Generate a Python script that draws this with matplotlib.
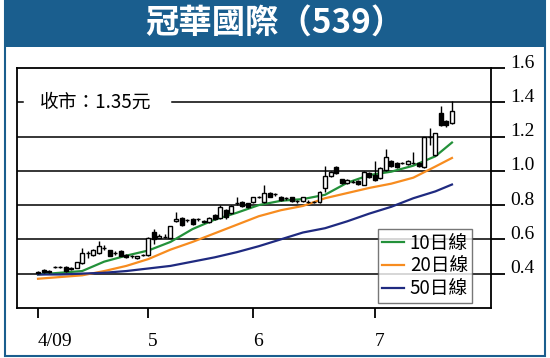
import numpy as np
import matplotlib
import matplotlib.pyplot as plt
import matplotlib.transforms as mtransforms
from matplotlib.patches import Rectangle

matplotlib.rcParams['font.family'] = ['Noto Sans CJK TC', 'DejaVu Sans']

# daily candles (open, high, low, close), from 4/09 onwards
opens = [0.405, 0.42, 0.415, 0.44, 0.44, 0.44, 0.435, 0.435, 0.46, 0.52,
         0.51, 0.52, 0.55, 0.535, 0.52, 0.53, 0.51, 0.50, 0.49, 0.51,
         0.51, 0.64, 0.61, 0.615, 0.61, 0.71, 0.725, 0.715, 0.72, 0.72,
         0.70, 0.70, 0.745, 0.725, 0.77, 0.755, 0.81, 0.82, 0.81, 0.82,
         0.845, 0.82, 0.87, 0.865, 0.85, 0.84, 0.845, 0.825, 0.825, 0.82,
         0.82, 0.82, 0.90, 0.97, 1.02, 0.95, 0.93, 0.935, 0.94, 0.92,
         0.99, 0.975, 0.96, 1.005, 1.06, 1.045, 1.045, 1.04, 1.045, 1.045,
         1.02, 1.20, 1.09, 1.335, 1.29, 1.28]
highs = [0.415, 0.425, 0.42, 0.445, 0.445, 0.445, 0.44, 0.47, 0.55, 0.53,
         0.545, 0.59, 0.565, 0.54, 0.53, 0.535, 0.515, 0.51, 0.505, 0.515,
         0.615, 0.66, 0.63, 0.63, 0.68, 0.76, 0.73, 0.72, 0.725, 0.725,
         0.715, 0.73, 0.75, 0.80, 0.775, 0.80, 0.85, 0.825, 0.815, 0.85,
         0.855, 0.92, 0.875, 0.87, 0.855, 0.845, 0.85, 0.83, 0.85, 0.83,
         0.825, 0.88, 1.03, 1.0, 1.03, 0.955, 0.95, 0.945, 0.945, 1.0,
         0.995, 1.06, 1.02, 1.13, 1.065, 1.05, 1.05, 1.065, 1.11, 1.05,
         1.20, 1.25, 1.22, 1.38, 1.295, 1.41]
lows = [0.40, 0.405, 0.405, 0.435, 0.435, 0.41, 0.42, 0.43, 0.455, 0.49,
        0.505, 0.515, 0.54, 0.50, 0.51, 0.50, 0.49, 0.49, 0.485, 0.50,
        0.505, 0.57, 0.605, 0.61, 0.605, 0.70, 0.68, 0.70, 0.685, 0.71,
        0.695, 0.695, 0.715, 0.72, 0.72, 0.75, 0.80, 0.79, 0.785, 0.815,
        0.84, 0.81, 0.845, 0.855, 0.825, 0.83, 0.82, 0.815, 0.82, 0.81,
        0.81, 0.815, 0.875, 0.965, 0.98, 0.925, 0.925, 0.93, 0.92, 0.915,
        0.96, 0.94, 0.955, 1.0, 1.025, 1.015, 1.04, 1.035, 1.04, 1.025,
        1.015, 1.15, 1.085, 1.26, 1.255, 1.275]
closes = [0.41, 0.41, 0.408, 0.44, 0.44, 0.415, 0.425, 0.465, 0.52, 0.52,
          0.54, 0.56, 0.55, 0.505, 0.52, 0.505, 0.495, 0.50, 0.50, 0.51,
          0.61, 0.60, 0.62, 0.615, 0.675, 0.72, 0.685, 0.715, 0.69, 0.72,
          0.71, 0.725, 0.72, 0.79, 0.73, 0.795, 0.81, 0.795, 0.79, 0.845,
          0.845, 0.87, 0.85, 0.865, 0.83, 0.84, 0.825, 0.825, 0.845, 0.82,
          0.82, 0.875, 0.97, 0.995, 0.985, 0.93, 0.945, 0.935, 0.925, 0.995,
          0.965, 0.945, 1.015, 1.08, 1.03, 1.02, 1.045, 1.06, 1.045, 1.03,
          1.20, 1.20, 1.22, 1.265, 1.265, 1.35]

# moving averages read at these candle indices
ma_idx = [0, 4, 8, 12, 16, 20, 24, 28, 32, 36, 40, 44, 48, 52, 56, 60, 64, 68, 72, 75]
ma10 = [0.395, 0.405, 0.415, 0.47, 0.505, 0.535, 0.585, 0.66, 0.715, 0.755,
        0.80, 0.825, 0.835, 0.86, 0.93, 0.975, 0.995, 1.03, 1.085, 1.165]
ma20 = [0.37, 0.38, 0.39, 0.415, 0.445, 0.485, 0.54, 0.585, 0.635, 0.685,
        0.735, 0.77, 0.795, 0.84, 0.87, 0.90, 0.925, 0.96, 1.025, 1.075]
ma50 = [0.395, 0.395, 0.40, 0.405, 0.415, 0.43, 0.445, 0.47, 0.495, 0.525,
        0.56, 0.60, 0.64, 0.665, 0.705, 0.75, 0.79, 0.84, 0.88, 0.92]

month_pos = [0, 19.9, 38.9, 61.0]
month_labels = ['4/09', '5', '6', '7']
yticks = [0.4, 0.6, 0.8, 1.0, 1.2, 1.4, 1.6]
last_close = 1.35

blue = '#1a5e8e'

fig = plt.figure(figsize=(5.5, 3.58), dpi=100)

# outer frame and title bar
fig.patches.append(Rectangle((0.009, 0.006), 0.982, 0.99, transform=fig.transFigure,
                             fill=False, edgecolor=blue, lw=1.5))
fig.patches.append(Rectangle((0.009, 0.869), 0.982, 0.131, transform=fig.transFigure,
                             facecolor=blue, edgecolor='none'))
fig.text(0.5, 0.935, '冠華國際（539）', color='white', fontsize=24, fontweight='bold',
         ha='center', va='center')

ax = fig.add_axes([0.031, 0.14, 0.862, 0.67])
ax.set_xlim(-3.8, 82.1)
ax.set_ylim(0.2, 1.6)

for y in yticks[:-2]:
    ax.axhline(y, color='black', lw=1.1, zorder=1)
ax.axhline(1.4, xmin=0.327, xmax=1, color='black', lw=1.1, zorder=1)
ax.axhline(1.4, xmin=0, xmax=0.013, color='black', lw=1.1, zorder=1)

ax.text(0.049, 1.4, '收市：' + f'{last_close:.2f}' + '元', fontsize=13.5,
        va='center', ha='left', transform=mtransforms.blended_transform_factory(ax.transAxes, ax.transData))

# moving averages
ax.plot(ma_idx, ma10, color='#23913a', lw=1.6, label='10日線', zorder=2)
ax.plot(ma_idx, ma20, color='#f78c1f', lw=1.6, label='20日線', zorder=2)
ax.plot(ma_idx, ma50, color='#1f2a80', lw=1.6, label='50日線', zorder=2)

# candles
w = 0.72
for i in range(len(opens)):
    o, h, l, c = opens[i], highs[i], lows[i], closes[i]
    ax.vlines(i, l, h, color='black', lw=1.0, zorder=3)
    face = 'white' if c >= o else 'black'
    ax.add_patch(Rectangle((i - w / 2, min(o, c)), w, abs(c - o), facecolor=face,
                           edgecolor='black', lw=1.0, zorder=4))

ax.yaxis.tick_right()
ax.set_yticks(yticks)
ax.set_yticklabels([f'{v:.1f}' for v in yticks])
ax.tick_params(axis='y', direction='out', length=10, width=1.3, pad=4, labelsize=14)
ax.set_xticks(month_pos)
ax.set_xticklabels(month_labels, ha='left')
ax.tick_params(axis='x', direction='out', length=7, width=1.3, pad=11, labelsize=14)
for lab in ax.get_xticklabels() + ax.get_yticklabels():
    lab.set_fontfamily('Liberation Serif')
offset = mtransforms.ScaledTranslation(0, 5 / 72, fig.dpi_scale_trans)
for lab in ax.get_yticklabels():
    lab.set_transform(lab.get_transform() + offset)
for s in ax.spines.values():
    s.set_linewidth(1.3)

leg = ax.legend(loc='upper left', bbox_to_anchor=(0.687, 0.361), bbox_transform=fig.transFigure,
                fontsize=13.5, frameon=True, fancybox=False, edgecolor='#555555',
                handlelength=1.2, handletextpad=0.3, labelspacing=0.1, borderpad=0.2,
                borderaxespad=0)
leg.get_frame().set_linewidth(1.0)
leg.set_zorder(5)

fig.savefig('out.png', dpi=100)
